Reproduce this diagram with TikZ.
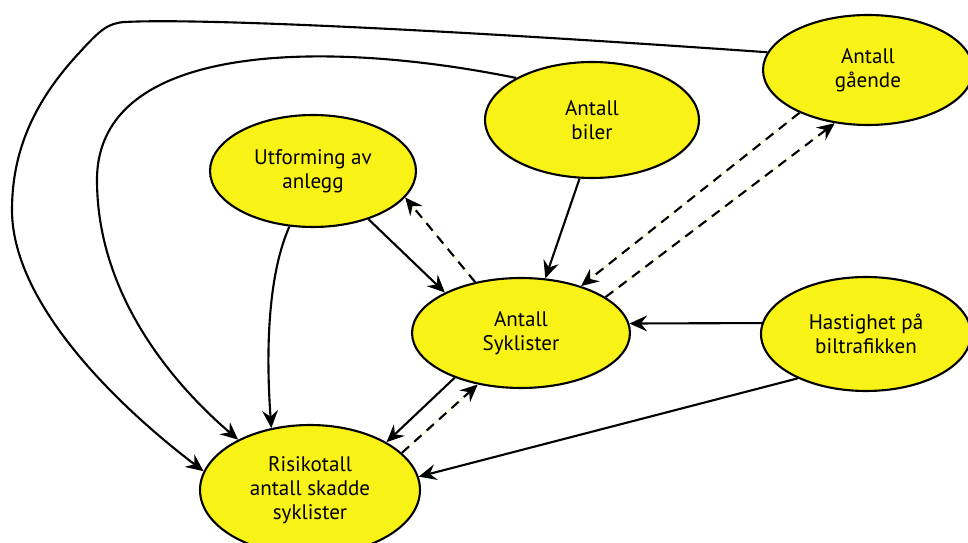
\documentclass[tikz,border=0pt]{standalone}
\usepackage{fontspec}
\setmainfont{PT Sans}
\usetikzlibrary{shapes.geometric,arrows.meta}
\definecolor{blobyellow}{RGB}{249,242,22}
\definecolor{paleline}{RGB}{250,246,190}

\begin{document}
\begin{tikzpicture}[x=0.02cm, y=-0.02cm,
    blob/.style={ellipse, draw, line width=1.2pt, fill=blobyellow, inner sep=0pt,
      align=center, font=\fontsize{12}{13.5}\selectfont},
    link/.style={line width=1.2pt, -{Stealth[length=10pt,width=9pt,inset=3.5pt]}},
    dlink/.style={link, dash pattern=on 5.5pt off 4pt,
      preaction={draw=paleline, line width=0.6pt, solid, -}}]
    \useasboundingbox (0,0) rectangle (968,543);
    % nodes
    \node[blob, minimum width=4.12cm, minimum height=2.24cm] (ut) at (313,171) {Utforming av\\anlegg};
    \node[blob, minimum width=4.28cm, minimum height=2.32cm] (bi) at (592,120) {Antall\\biler};
    \node[blob, minimum width=4.2cm, minimum height=2.2cm] (ga) at (868,70) {Antall\\gående};
    \node[blob, minimum width=4.36cm, minimum height=2.2cm] (sy) at (521,333) {Antall\\Syklister};
    \node[blob, minimum width=4.2cm, minimum height=2.28cm] (ha) at (866,334) {Hastighet på\\biltrafikken};
    \node[blob, minimum width=4.4cm, minimum height=2.6cm] (ri) at (310,490) {Risikotall\\antall skadde\\syklister};
    % straight links
    \draw[link] (ut.-41) -- (sy.152);
    \draw[dlink] (sy.132) -- (ut.-16);
    \draw[link] (bi.-102) -- (sy.66);
    \draw[dlink] (ga.-148) -- (sy.38);
    \draw[dlink] (sy.23) -- (ga.-122);
    \draw[link] (ha.174) -- (sy.5);
    \draw[link] (sy.-146) -- (ri.32);
    \draw[dlink] (ri.22) -- (sy.-130);
    \draw[link] (ha.-147) -- (ri.7);
    % curved links
    \draw[link] (ut.-113) .. controls (270,270) and (265,340) .. (ri.122);
    \draw[link] (bi.151) .. controls (330,40) and (97,40) .. (97,180)
        .. controls (97,300) and (180,390) .. (ri.145);
    \draw[link] (ga.170) .. controls (450,30) and (200,18) .. (125,22)
        .. controls (108,23) and (100,30) .. (80,52)
        .. controls (35,100) and (12,150) .. (12,210)
        .. controls (12,300) and (110,400) .. (ri.170);
\end{tikzpicture}
\end{document}
